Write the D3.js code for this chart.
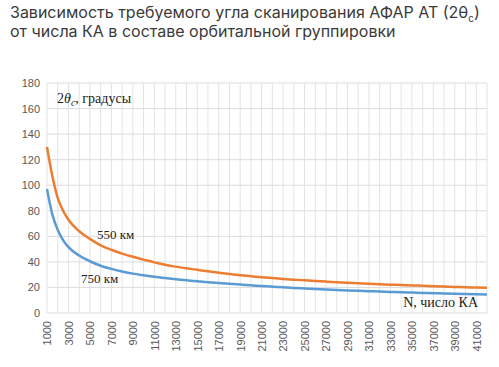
<!DOCTYPE html>
<html>
<head>
<meta charset="utf-8">
<script src="https://cdn.jsdelivr.net/npm/d3@7"></script>
<style>
  body { margin: 0; background: #fff; }
  svg { display: block; }
</style>
</head>
<body>
<svg id="svg"></svg>
<script>
// number of satellites (N)
const counts = [1000, 1500, 2000, 2500, 3000, 4000, 5000, 6000, 7000, 8000, 9000, 10000,
    11000, 12000, 13000, 14000, 15000, 16000, 17000, 18000, 19000, 20000,
    21000, 22000, 23000, 24000, 25000, 26000, 27000, 28000, 29000, 30000,
    31000, 32000, 33000, 34000, 35000, 36000, 37000, 38000, 39000, 40000,
    41000, 42000];

// scan angle 2θc, degrees, orbit 550 km
const angle550 = [130, 107, 90, 80, 73, 64, 58, 53, 49.5, 46.5, 44, 41.8,
    39.6, 37.8, 36.3, 35, 33.8, 32.6, 31.5, 30.5, 29.6, 28.8,
    28, 27.3, 26.7, 26.1, 25.6, 25.1, 24.6, 24.1, 23.7, 23.3,
    22.9, 22.5, 22.2, 21.9, 21.6, 21.3, 21, 20.7, 20.4, 20.2,
    19.9, 19.7];

// scan angle 2θc, degrees, orbit 750 km
const angle750 = [97, 77, 65, 57, 51.5, 45, 40.5, 37, 34.5, 32.5, 30.8, 29.5,
    28.3, 27.3, 26.4, 25.6, 24.8, 24.1, 23.5, 22.9, 22.3, 21.7,
    21.1, 20.6, 20.1, 19.6, 19.2, 18.8, 18.4, 18, 17.7, 17.4,
    17.1, 16.8, 16.5, 16.2, 16, 15.7, 15.5, 15.2, 15, 14.8,
    14.6, 14.4];

const yTicks = [0, 20, 40, 60, 80, 100, 120, 140, 160, 180];
const xGrid = d3.range(1000, 42001, 1000);
const xTickLabels = d3.range(1000, 41001, 2000);

const width = 499;
const height = 367;

let svg = d3.select("#svg")
    .attr("width", width)
    .attr("height", height);

// title, two lines
const title = svg.append("g")
    .style("font-family", "Inter, Roboto, 'Noto Sans', sans-serif")
    .style("font-size", "16px")
    .attr("fill", "#3a3a3a");

const t1 = title.append("text").attr("x", 10).attr("y", 18);
t1.append("tspan").text("Зависимость требуемого угла сканирования АФАР АТ (2θ");
t1.append("tspan").attr("font-size", "10px").attr("dy", 4).text("с");
t1.append("tspan").attr("dy", -4).text(")");

title.append("text").attr("x", 10).attr("y", 37)
    .text("от числа КА в составе орбитальной группировки");

const xScale = d3.scaleLinear()
    .domain([1000, 42000])
    .range([47, 487]);

const yScale = d3.scaleLinear()
    .domain([0, 180])
    .range([313, 83]);

const chart = svg.append("g");

// gridlines
chart.append("g")
    .selectAll("line")
    .data(xGrid)
    .join("line")
    .attr("x1", d => xScale(d))
    .attr("x2", d => xScale(d))
    .attr("y1", yScale(0))
    .attr("y2", yScale(180))
    .attr("stroke", "#e3e3e3")
    .attr("stroke-width", 1);

chart.append("g")
    .selectAll("line")
    .data(yTicks)
    .join("line")
    .attr("x1", xScale(1000))
    .attr("x2", xScale(42000))
    .attr("y1", d => yScale(d))
    .attr("y2", d => yScale(d))
    .attr("stroke", "#dcdcdc")
    .attr("stroke-width", 1);

// axes, labels only
const yAxis = chart.append("g")
    .attr("transform", `translate(${xScale(1000)},0)`)
    .call(d3.axisLeft(yScale).tickValues(yTicks).tickSize(0).tickPadding(7));
yAxis.select(".domain").remove();
yAxis.selectAll("text")
    .style("font-family", "'Liberation Sans', Arial, sans-serif")
    .style("font-size", "11px")
    .attr("fill", "#595959");

const xAxis = chart.append("g")
    .attr("transform", `translate(0,${yScale(0)})`)
    .call(d3.axisBottom(xScale).tickValues(xTickLabels).tickFormat(d3.format("d")).tickSize(0));
xAxis.select(".domain").remove();
xAxis.selectAll("text")
    .style("font-family", "'Liberation Sans', Arial, sans-serif")
    .style("font-size", "11px")
    .attr("fill", "#595959")
    .attr("transform", "rotate(-90)")
    .attr("text-anchor", "end")
    .attr("x", -8)
    .attr("y", 0)
    .attr("dy", "0.35em");

// series
const line = d3.line()
    .x((d, i) => xScale(counts[i]))
    .y(d => yScale(d))
    .curve(d3.curveMonotoneX);

chart.append("path")
    .datum(angle750)
    .attr("fill", "none")
    .attr("stroke", "#5B9BD5")
    .attr("stroke-width", 2.5)
    .attr("d", line);

chart.append("path")
    .datum(angle550)
    .attr("fill", "none")
    .attr("stroke", "#ED7D31")
    .attr("stroke-width", 2.5)
    .attr("d", line);

// annotations in serif
const notes = chart.append("g")
    .style("font-family", "'Liberation Serif', 'DejaVu Serif', serif")
    .attr("fill", "#222");

const yLab = notes.append("text").attr("x", 57).attr("y", 103).style("font-size", "14px");
yLab.append("tspan").text("2");
yLab.append("tspan").attr("font-style", "italic").text("θ");
yLab.append("tspan").attr("font-style", "italic").attr("font-size", "10px").attr("dy", 3).text("c");
yLab.append("tspan").attr("dy", -3).text(", градусы");

notes.append("text").attr("x", 97).attr("y", 239).style("font-size", "13px").text("550 км");
notes.append("text").attr("x", 81).attr("y", 283).style("font-size", "13px").text("750 км");
notes.append("text").attr("x", 478).attr("y", 307).attr("text-anchor", "end")
    .style("font-size", "14px").text("N, число КА");
</script>
</body>
</html>
